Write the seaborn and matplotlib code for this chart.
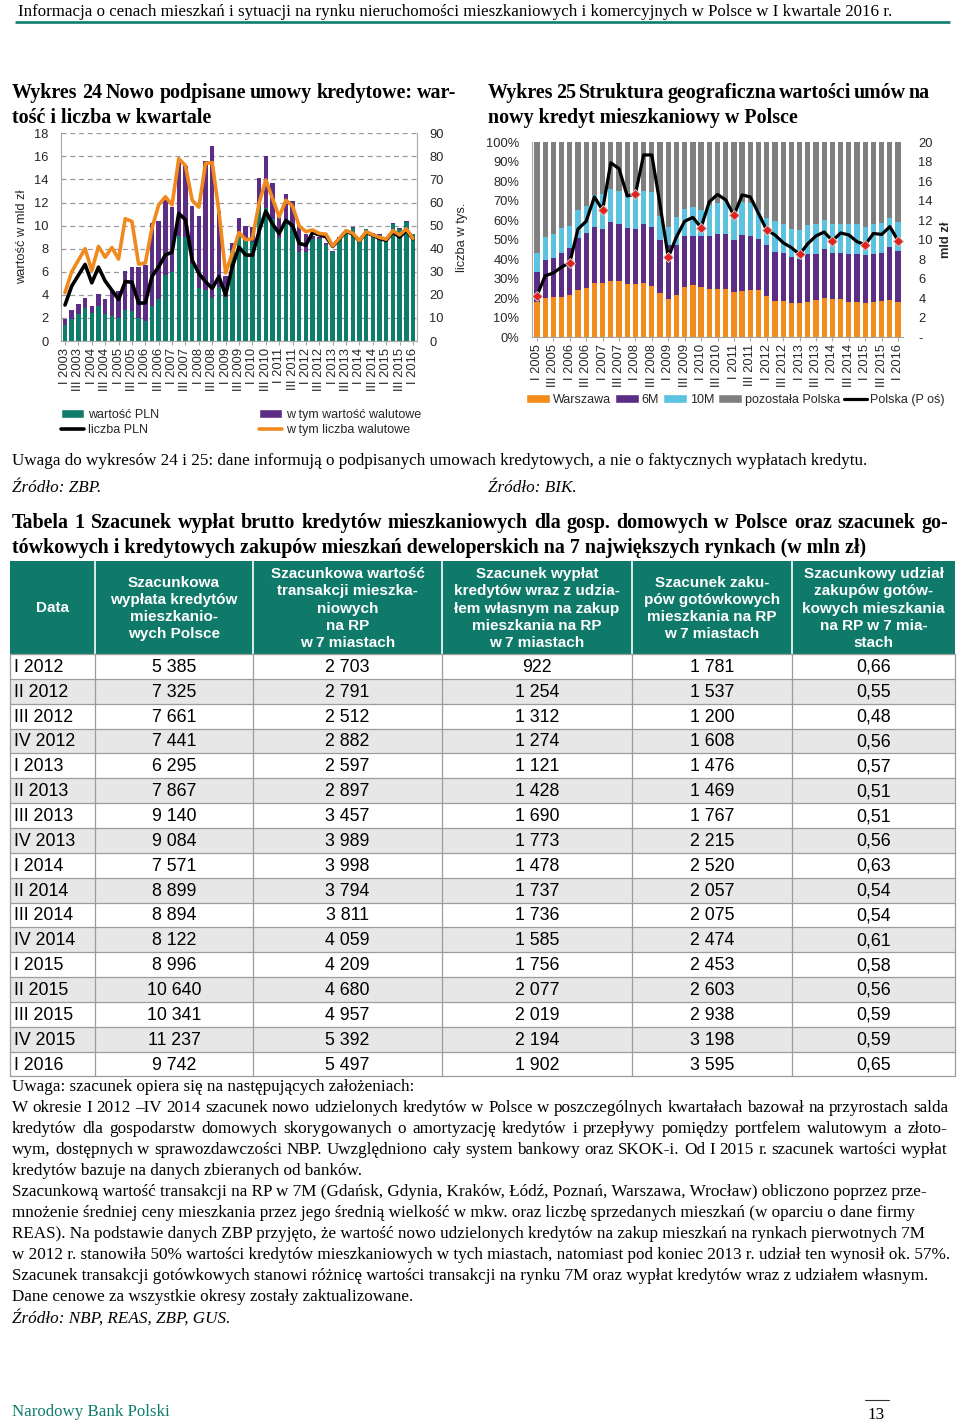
import numpy as np
import pandas as pd
import matplotlib
matplotlib.use("Agg")
import matplotlib.pyplot as plt
import seaborn as sns
from matplotlib.patches import Rectangle, Patch
from matplotlib.lines import Line2D

sns.set_style("white")
plt.rcParams["font.family"] = ["Liberation Sans", "DejaVu Sans"]
SERIF = ["Liberation Serif", "DejaVu Serif"]

# ---------------- Wykres 24 data (I 2003 - I 2016) ----------------
kwartal = ["I", "II", "III", "IV"]
kw24 = [f"{q} {y}" for y in range(2003, 2017) for q in kwartal][:53]
wartosc_ogolem = [1.94, 2.7, 3.22, 3.74, 3.0, 4.1, 3.68, 4.3, 4.3, 6.05,
                  6.45, 6.4, 6.6, 10.2, 10.4, 12.2, 11.6, 15.6, 15.2, 11.7,
                  10.8, 15.6, 16.9, 11.3, 5.6, 8.5, 10.7, 9.95, 9.9, 14.1,
                  16.0, 13.7, 10.9, 12.7, 12.15, 9.95, 9.3, 9.1, 9.0, 8.5,
                  7.8, 9.0, 9.65, 9.85, 8.75, 9.72, 9.4, 9.25, 9.05, 10.2,
                  9.75, 10.4, 9.3]
wartosc_pln = [1.4, 1.9, 2.35, 2.85, 2.4, 3.0, 2.35, 2.15, 2.0, 2.7,
               2.6, 1.97, 1.76, 3.0, 3.6, 5.7, 6.0, 9.1, 9.0, 6.7,
               4.6, 4.4, 3.7, 4.7, 3.85, 7.9, 9.3, 8.8, 8.6, 11.6,
               11.5, 10.6, 8.9, 10.6, 9.9, 7.75, 7.7, 8.8, 8.8, 8.35,
               7.75, 8.95, 9.6, 9.8, 8.7, 9.67, 9.35, 9.2, 9.0, 10.15,
               9.7, 10.35, 9.25]
liczba_pln = [15.6, 23.8, 28.5, 33.2, 25.2, 32.0, 26.0, 22.0, 18.0, 25.7,
              25.5, 16.4, 16.5, 28.0, 32.2, 37.3, 38.5, 55.3, 52.5, 35.0,
              29.3, 25.7, 22.8, 27.9, 20.0, 32.2, 40.7, 37.3, 37.1, 47.5,
              56.3, 50.7, 46.6, 52.3, 50.0, 42.3, 41.5, 47.0, 46.0, 45.2,
              41.0, 44.1, 47.6, 46.3, 43.4, 47.0, 45.8, 44.4, 43.6, 47.3,
              45.0, 48.0, 44.3]
liczba_walutowe = [21.0, 30.0, 35.0, 40.0, 30.5, 41.0, 36.3, 40.5, 35.5, 53.0,
                   51.8, 33.3, 33.8, 49.0, 59.0, 62.5, 59.0, 79.0, 76.0, 61.0,
                   58.0, 77.0, 77.3, 56.0, 29.5, 38.0, 47.0, 43.9, 44.3, 59.7,
                   69.8, 61.8, 53.8, 61.0, 58.5, 49.8, 47.4, 48.1, 46.6, 46.3,
                   41.2, 44.5, 47.8, 46.7, 43.5, 47.4, 46.0, 44.9, 44.1, 47.8,
                   46.0, 48.6, 44.5]

# ---------------- Wykres 25 data (I 2005 - I 2016), shares in % ----------------
kw25 = [f"{q} {y}" for y in range(2005, 2017) for q in kwartal][:45]
warszawa = [18.3, 20.0, 20.5, 20.9, 21.7, 24.3, 25.1, 28.0, 28.0, 29.1,
            28.9, 27.4, 27.2, 27.7, 26.5, 22.6, 19.5, 21.8, 25.8, 26.6,
            25.6, 24.8, 24.8, 25.0, 23.0, 23.8, 24.5, 24.2, 21.3, 18.7,
            18.7, 17.4, 17.4, 18.2, 19.1, 20.4, 19.4, 19.4, 18.2, 18.2,
            17.7, 18.1, 18.6, 19.1, 17.9]
m6 = [15.4, 19.7, 20.0, 22.5, 23.9, 26.5, 28.2, 28.8, 27.6, 29.9,
      29.2, 28.5, 28.4, 30.3, 30.3, 27.3, 27.9, 25.6, 26.2, 25.4,
      26.4, 27.4, 28.0, 27.8, 27.1, 28.5, 27.6, 26.4, 25.9, 25.1,
      24.6, 23.8, 23.0, 24.7, 23.8, 25.1, 23.9, 23.9, 24.4, 24.7,
      24.4, 24.5, 24.7, 27.2, 26.4]
m10 = [9.3, 11.6, 12.3, 12.5, 11.7, 14.5, 14.1, 16.2, 17.9, 16.9,
       16.9, 16.6, 19.1, 17.2, 17.9, 12.1, 9.4, 14.4, 13.6, 15.0,
       13.3, 15.8, 16.2, 16.9, 15.0, 17.0, 16.7, 14.5, 14.1, 15.8,
       14.6, 14.5, 14.5, 14.5, 15.0, 14.8, 15.0, 15.0, 15.3, 15.0,
       14.5, 15.7, 15.3, 15.0, 14.8]
pozostala = [57.0, 48.7, 47.2, 44.1, 42.7, 34.7, 32.6, 27.0, 26.5, 24.1,
             25.0, 27.5, 25.3, 24.8, 25.3, 38.0, 43.2, 38.2, 34.4, 33.0,
             34.7, 32.0, 31.0, 30.3, 34.9, 30.7, 31.2, 34.9, 38.7, 40.4,
             42.1, 44.3, 45.1, 42.6, 42.1, 39.7, 41.7, 41.7, 42.1, 42.1,
             43.4, 41.7, 41.4, 38.7, 40.9]
polska_mld = [4.27, 6.3, 6.6, 7.2, 7.65, 11.1, 11.9, 14.4, 13.06, 17.9,
              17.3, 14.5, 14.7, 18.7, 18.7, 13.6, 8.2, 10.3, 11.9, 12.3,
              11.25, 13.9, 14.65, 14.1, 12.5, 14.6, 14.4, 12.7, 11.0, 10.5,
              9.7, 9.2, 8.5, 9.6, 10.4, 10.8, 9.9, 10.7, 10.5, 9.8,
              9.5, 10.65, 10.55, 11.35, 9.9]

# ---------------- Tabela 1 data ----------------
tab_data = ["I 2012", "II 2012", "III 2012", "IV 2012", "I 2013", "II 2013", "III 2013",
            "IV 2013", "I 2014", "II 2014", "III 2014", "IV 2014", "I 2015", "II 2015",
            "III 2015", "IV 2015", "I 2016"]
wyplata_polska = [5385, 7325, 7661, 7441, 6295, 7867, 9140, 9084, 7571, 8899, 8894,
                  8122, 8996, 10640, 10341, 11237, 9742]
transakcje_7m = [2703, 2791, 2512, 2882, 2597, 2897, 3457, 3989, 3998, 3794, 3811,
                 4059, 4209, 4680, 4957, 5392, 5497]
kredyty_udzial_7m = [922, 1254, 1312, 1274, 1121, 1428, 1690, 1773, 1478, 1737, 1736,
                     1585, 1756, 2077, 2019, 2194, 1902]
gotowka_7m = [1781, 1537, 1200, 1608, 1476, 1469, 1767, 2215, 2520, 2057, 2075,
              2474, 2453, 2603, 2938, 3198, 3595]
udzial_gotowki = [0.66, 0.55, 0.48, 0.56, 0.57, 0.51, 0.51, 0.56, 0.63, 0.54, 0.54,
                  0.61, 0.58, 0.56, 0.59, 0.59, 0.65]
tab_headers = ["Data",
               "Szacunkowa\nwypłata kredytów\nmieszkanio-\nwych Polsce",
               "Szacunkowa wartość\ntransakcji mieszka-\nniowych\nna RP\nw 7 miastach",
               "Szacunek wypłat\nkredytów wraz z udzia-\nłem własnym na zakup\nmieszkania na RP\nw 7 miastach",
               "Szacunek zaku-\npów gotówkowych\nmieszkania na RP\nw 7 miastach",
               "Szacunkowy udział\nzakupów gotów-\nkowych mieszkania\nna RP w 7 mia-\nstach"]

# ---------------- colours ----------------
TEAL = "#0f7d6c"
PURPLE = "#5b2d84"
ORANGE = "#f08a1e"
ORANGE25 = "#f28c1c"
LBLUE = "#5bc3df"
GRAY = "#7f7f7f"
HDR = "#107a6a"
AXC = "#a6a6a6"
TXT = "#262626"

W, H = 960, 1427


def box(x0, y0, x1, y1):
    return [x0 / W, 1 - y1 / H, (x1 - x0) / W, (y1 - y0) / H]


fig = plt.figure(figsize=(W / 100, H / 100), dpi=100)
axbg = fig.add_axes([0, 0, 1, 1], zorder=0)
axbg.set_xlim(0, W)
axbg.set_ylim(H, 0)
axbg.axis("off")
renderer = fig.canvas.get_renderer()


def tw(s, size, weight="normal", style="normal"):
    t = axbg.text(0, 0, s, fontsize=size, family=SERIF, weight=weight, style=style)
    w = t.get_window_extent(renderer=renderer).width
    t.remove()
    return w


def fit(s, width, weight="normal", style="normal"):
    return 12.0 * width / tw(s, 12.0, weight, style)


def put(x, y, s, size, weight="normal", style="normal", right=None, color="black"):
    kw = dict(fontsize=size, family=SERIF, weight=weight, style=style, color=color,
              va="baseline", ha="left")
    if right is None:
        axbg.text(x, y, s, **kw)
        return
    words = s.split(" ")
    ws = [tw(w, size, weight, style) for w in words]
    gap = (right - x - sum(ws)) / max(len(words) - 1, 1)
    cx = x
    for w, wd in zip(words, ws):
        axbg.text(cx, y, w, **kw)
        cx += wd + gap


# ---------------- page texts ----------------
head = "Informacja o cenach mieszkań i sytuacji na rynku nieruchomości mieszkaniowych i komercyjnych w Polsce w I kwartale 2016 r."
put(18, 16.5, head, fit(head, 870))
axbg.plot([15, 950], [22, 22], color=TEAL, lw=1.9, solid_capstyle="butt")

t_last = "tówkowych i kredytowych zakupów mieszkań deweloperskich na 7 największych rynkach (w mln zł)"
TS = fit(t_last, 850, weight="bold")
put(12, 98, "Wykres 24 Nowo podpisane umowy kredytowe: war-", TS, "bold", right=456)
put(12, 123, "tość i liczba w kwartale", TS, "bold")
put(488, 98, "Wykres 25 Struktura geograficzna wartości umów na", TS, "bold", right=930)
put(488, 123, "nowy kredyt mieszkaniowy w Polsce", TS, "bold")

lastnote = "Szacunek transakcji gotówkowych stanowi różnicę wartości transakcji na rynku 7M oraz wypłat kredytów wraz z udziałem własnym."
BS = fit(lastnote, 918)
put(12, 465, "Uwaga do wykresów 24 i 25: dane informują o podpisanych umowach kredytowych, a nie o faktycznych wypłatach kredytu.", BS)
put(12, 492, "Źródło: ZBP.", BS, style="italic")
put(488, 492, "Źródło: BIK.", BS, style="italic")
put(12, 528, "Tabela 1 Szacunek wypłat brutto kredytów mieszkaniowych dla gosp. domowych w Polsce oraz szacunek go-",
    TS, "bold", right=948)
put(12, 553, t_last, TS, "bold")

notes = [
    ("Uwaga: szacunek opiera się na następujących założeniach:", None),
    ("W okresie I 2012 –IV 2014 szacunek nowo udzielonych kredytów w Polsce w poszczególnych kwartałach bazował na przyrostach salda", 948),
    ("kredytów dla gospodarstw domowych skorygowanych o amortyzację kredytów i przepływy pomiędzy portfelem walutowym a złoto-", 947),
    ("wym, dostępnych w sprawozdawczości NBP. Uwzględniono cały system bankowy oraz SKOK-i. Od I 2015 r. szacunek wartości wypłat", 948),
    ("kredytów bazuje na danych zbieranych od banków.", None),
    ("Szacunkową wartość transakcji na RP w 7M (Gdańsk, Gdynia, Kraków, Łódź, Poznań, Warszawa, Wrocław) obliczono poprzez prze-", None),
    ("mnożenie średniej ceny mieszkania przez jego średnią wielkość w mkw. oraz liczbę sprzedanych mieszkań (w oparciu o dane firmy", None),
    ("REAS). Na podstawie danych ZBP przyjęto, że wartość nowo udzielonych kredytów na zakup mieszkań na rynkach pierwotnych 7M", None),
    ("w 2012 r. stanowiła 50% wartości kredytów mieszkaniowych w tych miastach, natomiast pod koniec 2013 r. udział ten wynosił ok. 57%.", None),
    (lastnote, None),
    ("Dane cenowe za wszystkie okresy zostały zaktualizowane.", None),
]
for i, (s, r) in enumerate(notes):
    put(12, 1091 + 21 * i, s, BS, right=r)
put(12, 1323, "Źródło: NBP, REAS, ZBP, GUS.", BS, style="italic")

put(12, 1416, "Narodowy Bank Polski", fit("Narodowy Bank Polski", 158), color=TEAL)
put(868, 1419, "13", BS)
axbg.plot([865, 889], [1400, 1400], color="#333333", lw=0.8)

# ---------------- table ----------------
cols = [10, 95, 253, 442, 632, 792, 955]
hdr_top, hdr_bot = 561, 654
row_h = 24.85
axbg.add_patch(Rectangle((cols[0], hdr_top), cols[-1] - cols[0], hdr_bot - hdr_top,
                         facecolor=HDR, edgecolor="none"))
for c in cols[1:-1]:
    axbg.plot([c, c], [hdr_top, hdr_bot], color="white", lw=1.2)
for j, htxt in enumerate(tab_headers):
    axbg.text((cols[j] + cols[j + 1]) / 2, (hdr_top + hdr_bot) / 2 + 1, htxt, color="white",
              fontsize=11, weight="bold", ha="center", va="center", linespacing=1.3)

tab_cols = [wyplata_polska, transakcje_7m, kredyty_udzial_7m, gotowka_7m]
for r in range(len(tab_data)):
    y0 = hdr_bot + r * row_h
    axbg.add_patch(Rectangle((cols[0], y0), cols[-1] - cols[0], row_h,
                             facecolor="white" if r % 2 == 0 else "#e7e7e7", edgecolor="none"))
    yc = y0 + row_h / 2 + 1
    axbg.text(14, yc, tab_data[r], fontsize=12.8, ha="left", va="center", color="black")
    for j, col in enumerate(tab_cols):
        axbg.text((cols[j + 1] + cols[j + 2]) / 2, yc, f"{col[r]:,}".replace(",", " "),
                  fontsize=12.8, ha="center", va="center", color="black")
    axbg.text((cols[5] + cols[6]) / 2, yc, f"{udzial_gotowki[r]:.2f}".replace(".", ","),
              fontsize=12.8, ha="center", va="center", color="black")
tab_bot = hdr_bot + len(tab_data) * row_h
for r in range(len(tab_data) + 1):
    yy = hdr_bot + r * row_h
    axbg.plot([cols[0], cols[-1]], [yy, yy], color="#9c9c9c", lw=0.9)
for c in cols:
    axbg.plot([c, c], [hdr_bot, tab_bot], color="#9c9c9c", lw=0.9)

# ---------------- Wykres 24 ----------------
ax24 = fig.add_axes(box(61, 133.3, 417, 341), zorder=2)
x24 = np.arange(len(kw24))
df24 = pd.DataFrame({"x": x24, "ogolem": wartosc_ogolem, "pln": wartosc_pln,
                     "l_pln": liczba_pln, "l_wal": liczba_walutowe})
sns.barplot(data=df24, x="x", y="ogolem", native_scale=True, color=PURPLE, width=0.66,
            saturation=1, errorbar=None, linewidth=0, ax=ax24)
sns.barplot(data=df24, x="x", y="pln", native_scale=True, color=TEAL, width=0.66,
            saturation=1, errorbar=None, linewidth=0, ax=ax24)
ax24.set_xlim(-0.6, len(kw24) - 0.4)
ax24.set_ylim(0, 18)
ax24.set_yticks(range(0, 19, 2))
ax24.yaxis.grid(True, linestyle=(0, (4, 3)), color="#9a9a9a", lw=0.9)
ax24.set_axisbelow(True)
ax24.set_xticks(x24[::2])
ax24.set_xticklabels(kw24[::2], rotation=90)
ax24.tick_params(axis="x", length=3, color=AXC, pad=2, labelsize=9.3, labelcolor=TXT, bottom=True)
ax24.tick_params(axis="y", length=0, pad=9, labelsize=9.3, labelcolor=TXT)
ax24.set_xlabel("")
ax24.set_ylabel("wartość w mld zł", fontsize=9.3, color=TXT)
ax24.yaxis.set_label_coords((28 - 61) / 356, 0.5)
for s in ["top", "right"]:
    ax24.spines[s].set_visible(False)
for s in ["left", "bottom"]:
    ax24.spines[s].set_color(AXC)

ax24r = ax24.twinx()
sns.lineplot(data=df24, x="x", y="l_pln", color="black", lw=2.6, ax=ax24r)
sns.lineplot(data=df24, x="x", y="l_wal", color=ORANGE, lw=2.6, ax=ax24r)
ax24r.set_xlim(-0.6, len(kw24) - 0.4)
ax24r.set_ylim(0, 90)
ax24r.set_yticks(range(0, 91, 10))
ax24r.tick_params(axis="y", length=0, pad=9, labelsize=9.3, labelcolor=TXT)
ax24r.set_ylabel("liczba w tys.", fontsize=9.3, color=TXT)
ax24r.yaxis.set_label_coords((456 - 61) / 356, 0.5)
ax24r.set_xlabel("")
for s in ["top", "left", "bottom"]:
    ax24r.spines[s].set_visible(False)
ax24r.spines["right"].set_color(AXC)

h24 = [Patch(facecolor=TEAL, label="wartość PLN"),
       Line2D([], [], color="black", lw=2.6, label="liczba PLN"),
       Patch(facecolor=PURPLE, label="w tym wartość walutowe"),
       Line2D([], [], color=ORANGE, lw=2.6, label="w tym liczba walutowe")]
fig.legend(handles=h24, loc="upper left", bbox_to_anchor=(61 / W, 1 - 409 / H), ncol=2,
           frameon=False, fontsize=9, handlelength=1.85, handletextpad=0.3,
           columnspacing=8.0, labelspacing=0.25, borderpad=0, borderaxespad=0)

# ---------------- Wykres 25 ----------------
ax25 = fig.add_axes(box(532, 142.3, 903, 337.3), zorder=2)
x25 = np.arange(len(kw25))
df25 = pd.DataFrame({"x": x25, "w": warszawa, "m6": m6, "m10": m10, "poz": pozostala,
                     "polska": polska_mld})
df25["c1"] = df25["w"]
df25["c2"] = df25["c1"] + df25["m6"]
df25["c3"] = df25["c2"] + df25["m10"]
df25["c4"] = df25["c3"] + df25["poz"]
for col, colr in [("c4", GRAY), ("c3", LBLUE), ("c2", PURPLE), ("c1", ORANGE25)]:
    sns.barplot(data=df25, x="x", y=col, native_scale=True, color=colr, width=0.64,
                saturation=1, errorbar=None, linewidth=0, ax=ax25)
ax25.set_xlim(-0.6, len(kw25) - 0.4)
ax25.set_ylim(0, 100)
ax25.set_yticks(range(0, 101, 10))
ax25.set_yticklabels([f"{v}%" for v in range(0, 101, 10)])
ax25.set_xticks(x25[::2])
ax25.set_xticklabels(kw25[::2], rotation=90)
ax25.tick_params(axis="x", length=3, color=AXC, pad=2, labelsize=9.3, labelcolor=TXT, bottom=True)
ax25.tick_params(axis="y", length=0, pad=9, labelsize=9.3, labelcolor=TXT)
ax25.set_xlabel("")
ax25.set_ylabel("")
for s in ["top", "right"]:
    ax25.spines[s].set_visible(False)
for s in ["left", "bottom"]:
    ax25.spines[s].set_color(AXC)

ax25r = ax25.twinx()
sns.lineplot(data=df25, x="x", y="polska", color="black", lw=2.3, ax=ax25r)
q1 = df25[df25["x"] % 4 == 0]
sns.scatterplot(data=q1, x="x", y="polska", marker="D", s=26, color="#e3201b",
                edgecolor="#c8c8c8", linewidth=0.7, zorder=5, ax=ax25r)
ax25r.set_xlim(-0.6, len(kw25) - 0.4)
ax25r.set_ylim(0, 20)
ax25r.set_yticks(range(0, 21, 2))
ax25r.set_yticklabels(["-"] + [str(v) for v in range(2, 21, 2)])
ax25r.tick_params(axis="y", length=0, pad=11, labelsize=9.3, labelcolor=TXT)
ax25r.set_ylabel("mld zł", fontsize=9.3, weight="bold", color=TXT)
ax25r.yaxis.set_label_coords((940 - 532) / 371, 0.5)
ax25r.set_xlabel("")
for s in ["top", "left", "bottom", "right"]:
    ax25r.spines[s].set_visible(False)

h25 = [Patch(facecolor=ORANGE25, label="Warszawa"),
       Patch(facecolor=PURPLE, label="6M"),
       Patch(facecolor=LBLUE, label="10M"),
       Patch(facecolor=GRAY, label="pozostała Polska"),
       Line2D([], [], color="black", lw=2.3, label="Polska (P oś)")]
fig.legend(handles=h25, loc="upper left", bbox_to_anchor=(526 / W, 1 - 394 / H), ncol=5,
           frameon=False, fontsize=9, handlelength=1.9, handletextpad=0.25,
           columnspacing=0.3, borderpad=0, borderaxespad=0)

fig.savefig("out.png", dpi=100)
